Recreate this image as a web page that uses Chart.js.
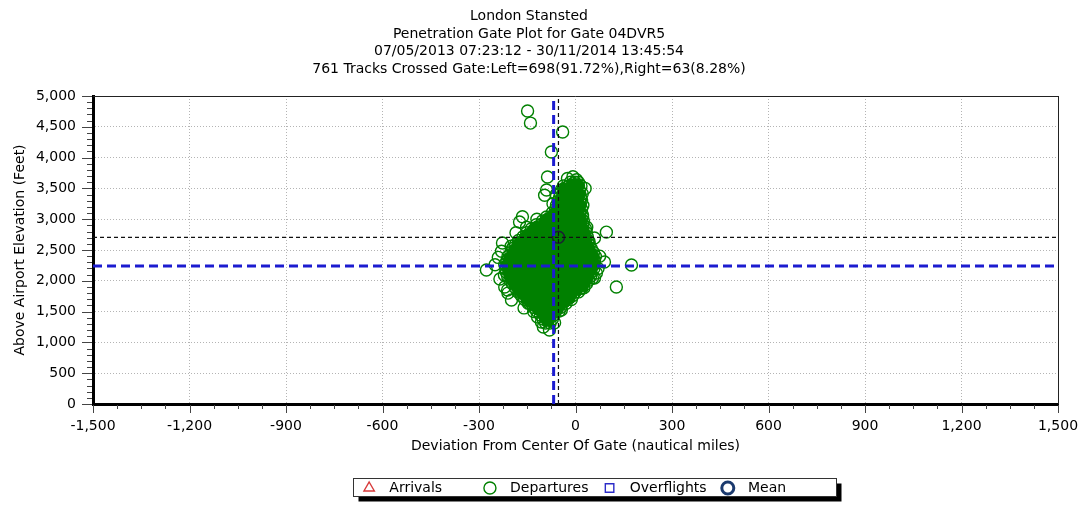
<!DOCTYPE html>
<html>
<head>
<meta charset="utf-8">
<title>Penetration Gate Plot for Gate 04DVR5</title>
<script src="https://cdn.jsdelivr.net/npm/chart.js@4.4.0/dist/chart.umd.min.js"></script>
<style>
  html, body { margin: 0; padding: 0; background: #ffffff; }
  #plot { display: block; }
</style>
</head>
<body>
<canvas id="plot" width="1079" height="505"></canvas>
<script>
// ---- Chart text -------------------------------------------------------
const titleLines = [
  'London Stansted',
  'Penetration Gate Plot for Gate 04DVR5',
  '07/05/2013 07:23:12 - 30/11/2014 13:45:54',
  '761 Tracks Crossed Gate:Left=698(91.72%),Right=63(8.28%)'
];
const xAxisTitle = 'Deviation From Center Of Gate (nautical miles)';
const yAxisTitle = 'Above Airport Elevation (Feet)';
const seriesNames = ['Arrivals', 'Departures', 'Overflights', 'Mean'];

// ---- Axis ticks ---------------------------------------------------------
const xTicks = [-1500, -1200, -900, -600, -300, 0, 300, 600, 900, 1200, 1500];
const yTicks = [0, 500, 1000, 1500, 2000, 2500, 3000, 3500, 4000, 4500, 5000];

// ---- Track crossings: [altitude ft, [deviations ...]] ----------------------
const departureRows = [
  [3600, [-16, -2, 9]],
  [3540, [-38, -21, -9, 5, 17]],
  [3475, [-44, -31, -14, 0, 12]],
  [3415, [-47, -33, -20, -4, 8, 21]],
  [3350, [-50, -38, -22, -9, 5, 16]],
  [3290, [-54, -41, -27, -10, 2, 14]],
  [3225, [-59, -45, -28, -16, -2, 11, 23]],
  [3160, [-62, -49, -35, -18, -6, 9, 19]],
  [3100, [-73, -58, -41, -29, -12, 0, 14]],
  [3035, [-90, -74, -61, -45, -31, -14, -3, 11, 22]],
  [2970, [-103, -92, -75, -61, -47, -30, -18, -2, 13, 25]],
  [2910, [-122, -107, -94, -77, -64, -49, -33, -20, -4, 10, 23]],
  [2845, [-137, -125, -112, -95, -82, -65, -52, -35, -23, -7, 6, 20, 31]],
  [2780, [-152, -137, -124, -107, -94, -77, -64, -48, -35, -19, -6, 10, 21, 34]],
  [2715, [-163, -152, -135, -122, -105, -92, -75, -62, -46, -33, -16, -4, 12, 24, 37]],
  [2655, [-177, -162, -149, -132, -119, -102, -89, -72, -59, -43, -30, -13, 1, 13, 28, 39]],
  [2590, [-186, -175, -158, -145, -128, -115, -98, -85, -68, -55, -39, -26, -9, 3, 19, 30, 43]],
  [2525, [-196, -181, -168, -151, -138, -121, -108, -91, -78, -61, -48, -32, -19, -2, 10, 26, 37, 49]],
  [2460, [-201, -190, -173, -160, -143, -130, -113, -100, -83, -70, -53, -40, -24, -11, 6, 18, 34, 45, 56]],
  [2395, [-210, -195, -182, -165, -152, -135, -122, -105, -92, -75, -62, -45, -32, -15, -2, 14, 26, 42, 53, 62]],
  [2330, [-213, -202, -185, -172, -155, -142, -125, -112, -95, -82, -65, -52, -35, -22, -6, 8, 22, 34, 49, 59]],
  [2265, [-220, -205, -190, -173, -160, -143, -130, -113, -100, -83, -70, -53, -40, -23, -10, 6, 18, 34, 45, 58]],
  [2200, [-217, -204, -187, -174, -157, -144, -127, -114, -97, -84, -67, -54, -37, -24, -7, 5, 21, 32, 47, 57]],
  [2140, [-215, -200, -187, -170, -157, -140, -127, -110, -97, -80, -67, -50, -37, -21, -8, 9, 20, 36, 48]],
  [2075, [-211, -198, -181, -168, -151, -138, -121, -108, -91, -78, -61, -48, -31, -18, -2, 10, 26, 37, 47]],
  [2010, [-204, -189, -176, -159, -146, -129, -116, -99, -86, -69, -56, -39, -26, -9, 2, 18, 29, 41]],
  [1950, [-196, -183, -166, -153, -136, -123, -106, -93, -76, -63, -46, -33, -17, -4, 11, 23, 34]],
  [1885, [-187, -172, -159, -142, -129, -112, -99, -82, -69, -52, -39, -22, -10, 6, 17, 26]],
  [1820, [-179, -166, -149, -136, -119, -106, -89, -76, -59, -46, -29, -17, -1, 9]],
  [1760, [-169, -154, -141, -124, -111, -94, -81, -64, -51, -34, -22, -8]],
  [1695, [-158, -145, -128, -115, -98, -85, -68, -55, -39, -27, -13]],
  [1635, [-147, -130, -117, -100, -87, -70, -57, -43, -29]],
  [1570, [-131, -118, -101, -88, -71, -59, -45]],
  [1510, [-121, -104, -91, -75, -63, -51]],
  [1445, [-109, -96, -80, -67]],
  [1380, [-101, -85, -72]],
  [1315, [-93, -79]]
];

// Scattered crossings around the main cluster: [deviation, altitude]
const departureOutliers = [
  [-149, 4756], [-140, 4560], [-40, 4415], [-75, 4090], [-87, 3685],
  [-25, 3660], [-8, 3690], [3, 3640], [-96, 3390], [19, 3310],
  [22, 3070], [-165, 3040], [-174, 2955], [-152, 2870], [96, 2790],
  [-227, 2614], [59, 2695], [-277, 2175], [174, 2256], [90, 2305],
  [59, 2045], [65, 2127], [127, 1900], [-221, 2094], [-199, 1688],
  [-143, 1640], [-12, 1818], [-44, 1526], [-118, 1412], [-106, 1331],
  [-81, 1201], [-56, 1607], [-250, 2260], [-240, 2380], [-235, 2030],
  [75, 2400], [70, 2200], [42, 2640], [35, 2870], [-185, 2780],
  [-200, 2560], [-120, 3000], [-60, 3400], [30, 3500], [-70, 3250],
  [-130, 1500], [-30, 1700], [20, 1880], [-100, 1250], [-65, 1320],
  [-210, 1800], [-220, 1900], [-160, 1560], [-211, 1850], [53, 2045],
  [-230, 2480], [-90, 3474]
];

const arrivals = [];
const overflights = [];

// Guide lines: [deviation, altitude]
const medianCross = [-68, 2240];
const meanCross = [-53, 2706];

// ---- Build datasets -----------------------------------------------------
const departureCore = departureRows
  .flatMap(([alt, devs]) => devs.map(d => ({ x: d, y: alt })));
const departures = departureCore
  .concat(departureOutliers.map(([d, a]) => ({ x: d, y: a })));

const X_MIN = xTicks[0], X_MAX = xTicks[xTicks.length - 1];
const Y_MIN = yTicks[0], Y_MAX = yTicks[yTicks.length - 1];

function guide(points, color, width, dash) {
  return {
    type: 'line', label: '', data: points, showLine: true, borderColor: color,
    borderWidth: width, borderDash: dash, pointRadius: 0, fill: false, order: 0
  };
}

const FONT = 'DejaVu Sans';
Chart.defaults.font.family = FONT;
Chart.defaults.font.size = 14;
Chart.defaults.color = '#000000';

// Minor/major tick marks and the thin top/right frame
const axisMarks = {
  id: 'axisMarks',
  afterDraw(chart) {
    const { ctx, chartArea: a, scales: { x, y } } = chart;
    ctx.save();
    ctx.strokeStyle = '#444444';
    ctx.lineWidth = 1;
    ctx.beginPath();
    for (let v = X_MIN; v <= X_MAX; v += 75) {
      const px = Math.round(x.getPixelForValue(v)) + 0.5;
      const len = v % 300 === 0 ? 8 : 4;
      ctx.moveTo(px, a.bottom + 1);
      ctx.lineTo(px, a.bottom + 1 + len);
    }
    for (let v = Y_MIN; v <= Y_MAX; v += 100) {
      const py = Math.round(y.getPixelForValue(v)) + 0.5;
      const len = v % 500 === 0 ? 10 : 5;
      ctx.moveTo(a.left - 1, py);
      ctx.lineTo(a.left - 1 - len, py);
    }
    ctx.stroke();
    ctx.strokeStyle = '#222222';
    ctx.beginPath();
    ctx.moveTo(a.left, Math.round(a.top) + 0.5);
    ctx.lineTo(a.right, Math.round(a.top) + 0.5);
    ctx.moveTo(Math.round(a.right) + 0.5, a.top);
    ctx.lineTo(Math.round(a.right) + 0.5, a.bottom);
    ctx.stroke();
    ctx.restore();
  }
};

// Framed legend panel with a drop shadow
const legendPanel = {
  id: 'legendPanel',
  beforeDraw(chart) {
    const boxes = chart.legend && chart.legend.legendHitBoxes;
    if (!boxes || !boxes.length) return;
    const first = boxes[0], last = boxes[boxes.length - 1];
    const left = Math.round(first.left - 12) + 0.5;
    const right = Math.round(last.left + last.width + 50) + 0.5;
    const mid = first.top + first.height / 2;
    const top = Math.round(mid - 10) + 0.5;
    const h = 18;
    const { ctx } = chart;
    ctx.save();
    ctx.fillStyle = '#000000';
    ctx.fillRect(left + 5, top + 5, right - left, h);
    ctx.fillStyle = '#ffffff';
    ctx.fillRect(left, top, right - left, h);
    ctx.strokeStyle = '#333333';
    ctx.lineWidth = 1;
    ctx.strokeRect(left, top, right - left, h);
    ctx.restore();
  }
};

const legendText = ['  Arrivals        ', '  Departures  ', '  Overflights  ', '  Mean'];

new Chart(document.getElementById('plot'), {
  type: 'scatter',
  data: {
    datasets: [
      { label: seriesNames[0], data: arrivals, pointStyle: 'triangle', pointRadius: 6,
        borderColor: '#d83a3a', backgroundColor: 'rgba(0,0,0,0)', borderWidth: 1.4, order: 4 },
      { label: seriesNames[1], data: departures, pointStyle: 'circle', pointRadius: 6,
        borderColor: '#008000', backgroundColor: 'rgba(0,0,0,0)', borderWidth: 1.4, order: 5 },
      { label: seriesNames[2], data: overflights, pointStyle: 'rect', pointRadius: 6,
        borderColor: '#2b2bc8', backgroundColor: 'rgba(0,0,0,0)', borderWidth: 1.4, order: 4 },
      { label: seriesNames[3], data: [{ x: meanCross[0], y: meanCross[1] }], pointStyle: 'circle',
        pointRadius: 6, borderColor: '#1a1f33', backgroundColor: 'rgba(0,0,0,0)', borderWidth: 1.5, order: 1 },
      // overlapping departure rings merge into a solid mass in the dense core
      { label: '', data: departureCore, pointStyle: 'circle', pointRadius: 4.2,
        borderWidth: 0, backgroundColor: '#008000', order: 6 },
      guide([{ x: medianCross[0], y: Y_MIN }, { x: medianCross[0], y: Y_MAX }], '#1c1cd0', 3, [9, 5]),
      guide([{ x: X_MIN, y: medianCross[1] }, { x: X_MAX, y: medianCross[1] }], '#1c1cd0', 3, [9, 5]),
      guide([{ x: meanCross[0], y: Y_MIN }, { x: meanCross[0], y: Y_MAX }], '#111111', 1.2, [4, 3]),
      guide([{ x: X_MIN, y: meanCross[1] }, { x: X_MAX, y: meanCross[1] }], '#111111', 1.2, [4, 3])
    ]
  },
  options: {
    responsive: false,
    animation: false,
    events: [],
    layout: { padding: { left: 0, right: 21, top: 0, bottom: 0 } },
    plugins: {
      tooltip: { enabled: false },
      title: {
        display: true,
        text: titleLines,
        color: '#000000',
        font: { family: FONT, size: 14, weight: 'normal', lineHeight: 1.25 },
        padding: { top: 8, bottom: 18 }
      },
      legend: {
        position: 'bottom',
        fullSize: false,
        labels: {
          usePointStyle: true,
          boxHeight: 8.5,
          boxWidth: 8.5,
          padding: 8,
          color: '#000000',
          font: { family: FONT, size: 14 },
          filter: item => item.text !== '',
          sort: (a, b) => a.datasetIndex - b.datasetIndex,
          generateLabels(chart) {
            const items = Chart.defaults.plugins.legend.labels.generateLabels(chart);
            return items.map(it => {
              const idx = seriesNames.indexOf(it.text);
              if (idx >= 0) it.text = legendText[idx];
              if (idx === 3) { it.lineWidth = 3; it.strokeStyle = '#1b3a6e'; }
              return it;
            });
          }
        }
      }
    },
    scales: {
      x: {
        type: 'linear',
        min: X_MIN, max: X_MAX,
        afterBuildTicks: s => { s.ticks = xTicks.map(v => ({ value: v })); },
        afterFit: s => { s.height = 69; },
        ticks: {
          padding: 0,
          color: '#000000',
          font: { family: FONT, size: 14 },
          maxRotation: 0,
          callback: v => Number(v).toLocaleString('en-US')
        },
        grid: { color: '#b4b4b4', lineWidth: 1, drawTicks: true, tickLength: 14, tickColor: 'rgba(0,0,0,0)' },
        border: { color: '#000000', width: 3, dash: [1, 2] },
        title: {
          display: true, text: xAxisTitle, color: '#000000',
          font: { family: FONT, size: 14 }, padding: { top: 4, bottom: 18 }
        }
      },
      y: {
        type: 'linear',
        min: Y_MIN, max: Y_MAX,
        afterBuildTicks: s => { s.ticks = yTicks.map(v => ({ value: v })); },
        afterFit: s => { s.width = 93; },
        ticks: {
          padding: 17,
          color: '#000000',
          font: { family: FONT, size: 14 },
          callback: v => Number(v).toLocaleString('en-US')
        },
        grid: { color: '#b4b4b4', lineWidth: 1, drawTicks: false },
        border: { color: '#000000', width: 3, dash: [1, 2] },
        title: {
          display: true, text: yAxisTitle, color: '#000000',
          font: { family: FONT, size: 14 }, padding: { top: 12, bottom: 0 }
        }
      }
    }
  },
  plugins: [legendPanel, axisMarks]
});
</script>
</body>
</html>
